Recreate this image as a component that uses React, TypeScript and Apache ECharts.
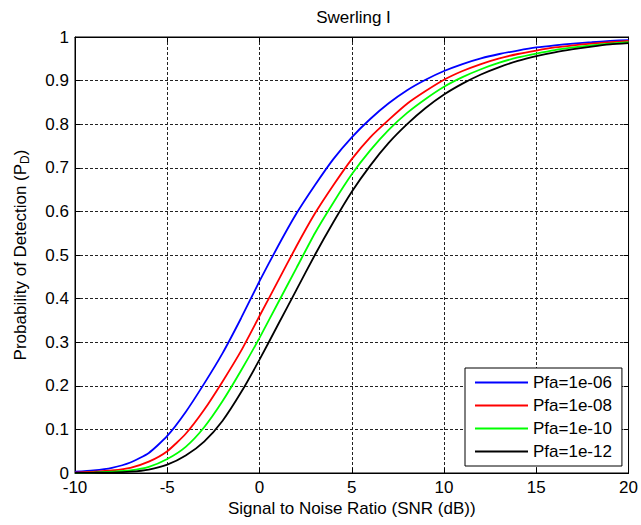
import React, { useEffect, useRef } from "react";
import * as echarts from "echarts";

const snrDb = [-10, -9, -8, -7, -6, -5, -4, -3, -2, -1, 0, 1, 2, 3, 4, 5, 6, 7, 8, 9, 10, 11, 12, 13, 14, 15, 16, 17, 18, 19, 20];

const pdPfa1e06 = [0.003, 0.006, 0.012, 0.024, 0.046, 0.085, 0.14, 0.205, 0.275, 0.355, 0.44, 0.52, 0.595, 0.66, 0.72, 0.77, 0.812, 0.848, 0.878, 0.902, 0.922, 0.938, 0.951, 0.961, 0.969, 0.976, 0.981, 0.985, 0.988, 0.991, 0.993];
const pdPfa1e08 = [0.001, 0.003, 0.006, 0.012, 0.026, 0.05, 0.09, 0.145, 0.21, 0.28, 0.36, 0.44, 0.52, 0.595, 0.66, 0.72, 0.77, 0.81, 0.847, 0.876, 0.902, 0.922, 0.938, 0.951, 0.961, 0.969, 0.976, 0.981, 0.985, 0.988, 0.991];
const pdPfa1e10 = [0.0005, 0.001, 0.003, 0.006, 0.014, 0.032, 0.06, 0.105, 0.165, 0.235, 0.31, 0.39, 0.47, 0.55, 0.62, 0.685, 0.74, 0.787, 0.826, 0.858, 0.886, 0.908, 0.926, 0.941, 0.953, 0.962, 0.97, 0.976, 0.981, 0.985, 0.988];
const pdPfa1e12 = [0.0002, 0.0005, 0.001, 0.003, 0.008, 0.019, 0.04, 0.072, 0.12, 0.185, 0.26, 0.34, 0.42, 0.5, 0.575, 0.645, 0.705, 0.757, 0.8, 0.837, 0.868, 0.893, 0.914, 0.931, 0.945, 0.956, 0.965, 0.972, 0.978, 0.983, 0.986];

const seriesNames = ["Pfa=1e-06", "Pfa=1e-08", "Pfa=1e-10", "Pfa=1e-12"];
const seriesValues = [pdPfa1e06, pdPfa1e08, pdPfa1e10, pdPfa1e12];
const seriesColors = ["#0000ff", "#ff0000", "#00ff00", "#000000"];

const titleText = "Swerling I";
const xAxisTitle = "Signal to Noise Ratio (SNR (dB))";

const FONT = "'Liberation Sans', Arial, Helvetica, sans-serif";

export default function App() {
  const ref = useRef<HTMLDivElement>(null);

  useEffect(() => {
    document.body.style.margin = "0";
    if (!ref.current) return;
    const chart = echarts.init(ref.current, undefined, { renderer: "svg" });

    const gridLineStyle = { color: "#222", width: 1, type: [3, 2] as number[] };
    const tickStyle = { inside: true, length: 5, lineStyle: { color: "#000", width: 1 } };

    chart.setOption({
      animation: false,
      backgroundColor: "#fff",
      textStyle: { fontFamily: FONT },
      grid: { left: 75, right: 9, top: 37, bottom: 52, show: true, borderColor: "#000", borderWidth: 1, backgroundColor: "#fff" },
      graphic: [
        {
          type: "text",
          x: 353.5,
          y: 17,
          style: { text: titleText, textAlign: "center", textVerticalAlign: "middle", fontSize: 17, fontFamily: FONT, fill: "#000" },
        },
      ],
      legend: {
        data: seriesNames,
        left: 465,
        top: 368,
        orient: "vertical",
        icon: "rect",
        itemWidth: 53,
        itemHeight: 2,
        itemGap: 6,
        padding: [6, 10, 6, 10],
        borderColor: "#000",
        borderWidth: 1,
        borderRadius: 0,
        backgroundColor: "#fff",
        textStyle: { fontSize: 17, fontFamily: FONT, color: "#000" },
      },
      xAxis: [
        {
          type: "value",
          min: -10,
          max: 20,
          interval: 5,
          position: "bottom",
          axisLine: { show: true, onZero: false, lineStyle: { color: "#000", width: 1 } },
          axisTick: tickStyle,
          axisLabel: { color: "#000", fontSize: 17, lineHeight: 14, fontFamily: FONT, margin: 7 },
          splitLine: { show: true, lineStyle: gridLineStyle },
          name: xAxisTitle,
          nameLocation: "middle",
          nameGap: 27,
          nameTextStyle: { color: "#000", fontSize: 17, fontFamily: FONT },
        },
        {
          type: "value",
          min: -10,
          max: 20,
          interval: 5,
          position: "top",
          axisLine: { show: true, onZero: false, lineStyle: { color: "#000", width: 1 } },
          axisTick: tickStyle,
          axisLabel: { show: false },
          splitLine: { show: false },
        },
      ],
      yAxis: [
        {
          type: "value",
          min: 0,
          max: 1,
          interval: 0.1,
          position: "left",
          axisLine: { show: true, onZero: false, lineStyle: { color: "#000", width: 1 } },
          axisTick: tickStyle,
          axisLabel: {
            color: "#000",
            fontSize: 17,
            lineHeight: 14,
            fontFamily: FONT,
            margin: 6,
            formatter: (v: number) => String(+v.toFixed(1)),
          },
          splitLine: { show: true, lineStyle: gridLineStyle },
          name: "{m|Probability of Detection (P}{s|D}{m|)}",
          nameLocation: "middle",
          nameRotate: 90,
          nameGap: 44,
          nameTextStyle: {
            color: "#000",
            rich: {
              m: { fontSize: 17, lineHeight: 22, fontFamily: FONT, color: "#000" },
              s: { fontSize: 12, lineHeight: 12, verticalAlign: "bottom", fontFamily: FONT, color: "#000" },
            },
          },
        },
        {
          type: "value",
          min: 0,
          max: 1,
          interval: 0.1,
          position: "right",
          axisLine: { show: true, onZero: false, lineStyle: { color: "#000", width: 1 } },
          axisTick: tickStyle,
          axisLabel: { show: false },
          splitLine: { show: false },
        },
      ],
      series: seriesNames.map((name, i) => ({
        name,
        type: "line",
        xAxisIndex: 0,
        yAxisIndex: 0,
        showSymbol: false,
        symbol: "none",
        smooth: 0.2,
        color: seriesColors[i],
        lineStyle: { color: seriesColors[i], width: 1.8 },
        data: snrDb.map((x, j) => [x, seriesValues[i][j]]),
      })),
    });

    return () => {
      chart.dispose();
    };
  }, []);

  return <div ref={ref} style={{ width: 641, height: 525 }} />;
}
